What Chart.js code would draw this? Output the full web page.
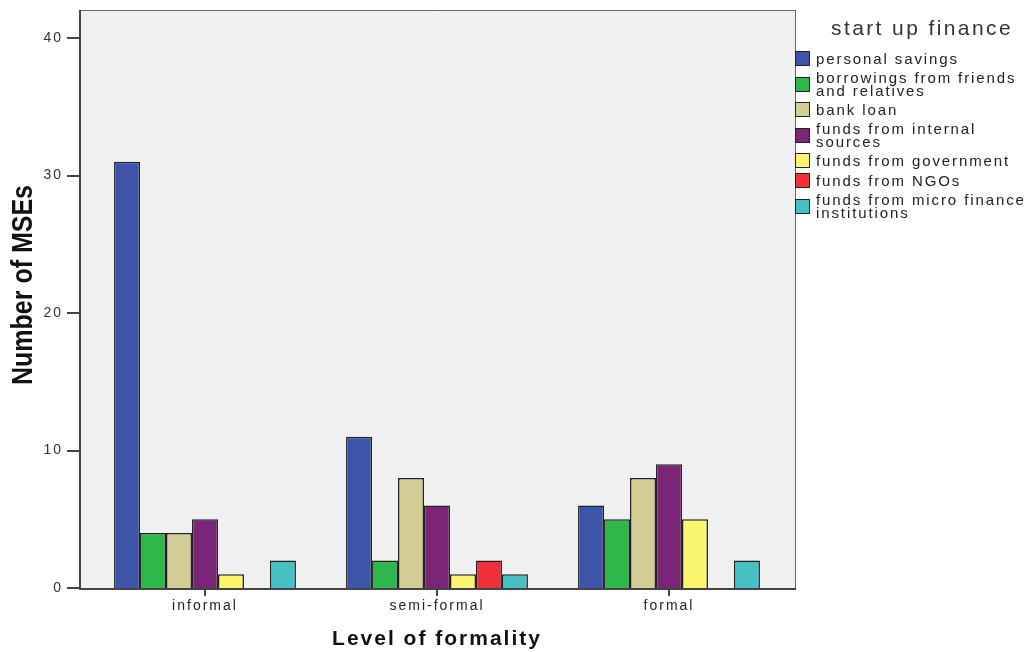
<!DOCTYPE html>
<html>
<head>
<meta charset="utf-8">
<script src="https://cdn.jsdelivr.net/npm/chart.js@4"></script>
<style>
  html, body { margin: 0; padding: 0; background: #fff; }
  #wrap { position: relative; width: 1029px; height: 652px; }
  #legend { position: absolute; left: 795px; top: 16px; width: 234px; font-family: "Liberation Sans", Arial, sans-serif; color: #222; }
  #legend .title { font-size: 21px; letter-spacing: 2.4px; text-align: center; padding-left: 20px; margin-bottom: 11px; color: #333; }
  #legend .item { display: flex; align-items: center; margin-bottom: 5px; }
  #legend .box { width: 13px; height: 13px; border: 1px solid #222; margin-right: 6px; flex: none; }
  #legend .txt { font-size: 15px; line-height: 13px; letter-spacing: 1.9px; }
</style>
</head>
<body>
<div id="wrap">
  <canvas id="chart" width="1029" height="652"></canvas>
  <div id="legend"></div>
</div>
<script>
const categories = ["informal", "semi-formal", "formal"];
const seriesNames = [
  "personal savings",
  "borrowings from friends and relatives",
  "bank loan",
  "funds from internal sources",
  "funds from government",
  "funds from NGOs",
  "funds from micro finance institutions",
];
const legendLines = [
  ["personal savings"],
  ["borrowings from friends", "and relatives"],
  ["bank loan"],
  ["funds from internal", "sources"],
  ["funds from government"],
  ["funds from NGOs"],
  ["funds from micro finance", "institutions"],
];
const personalSavings = [31, 11, 6];
const borrowings = [4, 2, 5];
const bankLoan = [4, 8, 8];
const internalFunds = [5, 6, 9];
const governmentFunds = [1, 1, 5];
const ngoFunds = [null, 2, null];
const microFinance = [2, 1, 2];
const yTicks = [0, 10, 20, 30, 40];
const yTitle = "Number of MSEs";

const seriesValues = [personalSavings, borrowings, bankLoan, internalFunds, governmentFunds, ngoFunds, microFinance];
const colors = ["#3d55a9", "#2eb74b", "#d3cd96", "#7b2579", "#fbf56d", "#ef3039", "#45c1c5"];

// the plot box is a bit wider than the category band
const FRAME_LEFT = 80;
const FRAME_RIGHT = 795;

// wide letter spacing like the SPSS output
const spacing = {
  id: "spacing",
  beforeUpdate(chart) { chart.ctx.letterSpacing = "2px"; },
  beforeDraw(chart) { chart.ctx.letterSpacing = "2px"; },
};

const plotFrame = {
  id: "plotFrame",
  beforeDatasetsDraw(chart) {
    const { ctx, chartArea: a } = chart;
    ctx.save();
    ctx.fillStyle = "#f0f0f0";
    ctx.fillRect(FRAME_LEFT, a.top, FRAME_RIGHT - FRAME_LEFT, a.bottom - a.top);
    ctx.strokeStyle = "#666";
    ctx.lineWidth = 1;
    ctx.beginPath();
    ctx.moveTo(FRAME_LEFT, a.top + 0.5);
    ctx.lineTo(FRAME_RIGHT + 0.5, a.top + 0.5);
    ctx.moveTo(FRAME_RIGHT + 0.5, a.top);
    ctx.lineTo(FRAME_RIGHT + 0.5, a.bottom);
    ctx.stroke();
    ctx.restore();
  },
  afterDraw(chart) {
    const { ctx, chartArea: a } = chart;
    const y = chart.scales.y;
    ctx.save();
    ctx.strokeStyle = "#444";
    ctx.lineWidth = 2;
    ctx.beginPath();
    ctx.moveTo(FRAME_LEFT, a.top);
    ctx.lineTo(FRAME_LEFT, a.bottom + 1);
    ctx.lineTo(FRAME_RIGHT + 1, a.bottom + 1);
    yTicks.forEach((v) => {
      const py = Math.round(y.getPixelForValue(v));
      ctx.moveTo(FRAME_LEFT - 13, py);
      ctx.lineTo(FRAME_LEFT, py);
    });
    ctx.stroke();

    ctx.letterSpacing = "0px";
    ctx.font = "bold 29px 'Liberation Sans'";
    const w = ctx.measureText(yTitle).width;
    ctx.translate(24, 285);
    ctx.rotate(-Math.PI / 2);
    ctx.scale(200 / w, 1);
    ctx.fillStyle = "#111";
    ctx.textAlign = "center";
    ctx.textBaseline = "middle";
    ctx.fillText(yTitle, 0, 0);
    ctx.restore();
  },
};

new Chart(document.getElementById("chart"), {
  type: "bar",
  data: {
    labels: categories,
    datasets: seriesNames.map((name, i) => ({
      label: name,
      data: seriesValues[i],
      backgroundColor: colors[i],
      borderColor: "#222",
      borderWidth: 1.5,
      barPercentage: 1,
      categoryPercentage: 0.784,
    })),
  },
  options: {
    responsive: false,
    animation: false,
    layout: { padding: { left: 0, top: 10, right: 244, bottom: 0 } },
    plugins: { legend: { display: false }, tooltip: { enabled: false } },
    scales: {
      x: {
        grid: { display: true, offset: false, drawOnChartArea: false, drawTicks: true, tickLength: 8, color: "#444", lineWidth: 2 },
        border: { display: false },
        ticks: { color: "#222", font: { family: "Liberation Sans", size: 14 }, padding: 2 },
        title: {
          display: true,
          text: "Level of formality",
          color: "#111",
          font: { family: "Liberation Sans", size: 21, weight: "bold" },
          padding: { top: 8, bottom: 0 },
        },
        afterFit(scale) { scale.height = 64; },
      },
      y: {
        min: 0,
        max: 42.04,
        grid: { display: false },
        border: { display: false },
        ticks: { color: "#333", font: { family: "Liberation Sans", size: 14 }, padding: 18 },
        afterBuildTicks(scale) { scale.ticks = yTicks.map((v) => ({ value: v })); },
        afterFit(scale) {
          scale.width = 89;
          scale.paddingTop = 0;
          scale.paddingBottom = 0;
        },
      },
    },
  },
  plugins: [spacing, plotFrame],
});

const legendEl = document.getElementById("legend");
legendEl.innerHTML = '<div class="title">start up finance</div>' +
  legendLines.map((lines, i) =>
    '<div class="item"><div class="box" style="background:' + colors[i] + '"></div>' +
    '<div class="txt">' + lines.join("<br>") + '</div></div>'
  ).join("");
</script>
</body>
</html>
